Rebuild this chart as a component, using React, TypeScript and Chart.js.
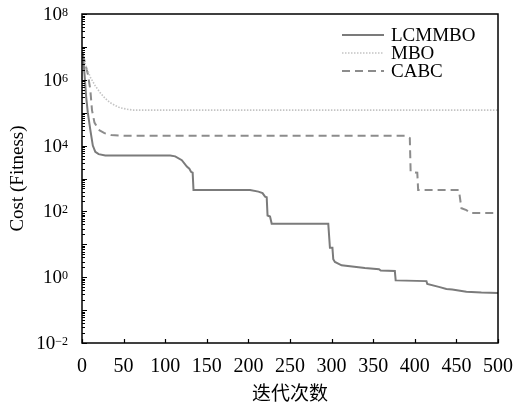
import React, { useEffect, useRef } from 'react';
import { Chart, registerables } from 'chart.js';

Chart.register(...registerables);

// ---- data ----
const seriesNames = ['LCMMBO', 'MBO', 'CABC'];

const lcmmboIter = [1, 3, 5, 7, 10, 13, 16, 20, 28, 60, 106, 112, 120, 126, 129, 131, 133, 134, 202, 212, 217, 220, 222, 223, 226, 228, 296, 298, 301, 302, 304, 312, 340, 357, 359, 376, 377, 414, 415, 430, 438, 445, 462, 480, 500];
const lcmmboCost = [6.5e6, 1.5e6, 3e5, 1e5, 3e4, 1e4, 6.5e3, 5.5e3, 5e3, 5e3, 5e3, 4.7e3, 3.6e3, 2.3e3, 2e3, 1.6e3, 1.5e3, 450, 450, 400, 360, 280, 270, 75, 70, 42, 42, 7.8, 7.8, 3.5, 2.9, 2.3, 1.9, 1.75, 1.6, 1.55, 0.8, 0.76, 0.62, 0.5, 0.44, 0.42, 0.36, 0.34, 0.33];

const mboIter = [1, 4, 10, 16, 22, 28, 34, 40, 46, 54, 61, 500];
const mboCost = [6e6, 3e6, 1.2e6, 6.5e5, 4e5, 2.7e5, 2e5, 1.65e5, 1.4e5, 1.28e5, 1.2e5, 1.2e5];

const cabcIter = [1, 4, 7, 10, 12, 15, 20, 27, 35, 50, 389, 394, 395, 403, 404, 453, 456, 462, 466, 500];
const cabcCost = [6e6, 3e6, 1.5e6, 5e5, 1.2e5, 5e4, 3e4, 2.4e4, 2.1e4, 2e4, 2e4, 1.7e4, 1.6e3, 1.5e3, 450, 450, 125, 110, 90, 90];

const xTickValues = [0, 50, 100, 150, 200, 250, 300, 350, 400, 450, 500];
const yLabelExponents = [-2, 0, 2, 4, 6, 8];
const xTitle = '迭代次数';
const yTitle = 'Cost (Fitness)';

const SERIF = '"Liberation Serif", "Times New Roman", serif';
const CJK = '"Noto Sans CJK SC", sans-serif';

const toPoints = (xs: number[], ys: number[]) => xs.map((x, i) => ({ x, y: ys[i] }));

const framePlugin = {
  id: 'frameAndLegend',
  afterDatasetsDraw(chart: any) {
    const { ctx, chartArea, scales } = chart;
    const { left, right, top, bottom } = chartArea;
    const xs = scales.x;
    const ys = scales.y;
    ctx.save();
    ctx.strokeStyle = '#000';
    ctx.lineWidth = 1.5;
    ctx.strokeRect(left, top, right - left, bottom - top);

    // x ticks (inward)
    ctx.lineWidth = 1.2;
    ctx.beginPath();
    xTickValues.forEach((v) => {
      const px = Math.round(xs.getPixelForValue(v)) + 0.5;
      ctx.moveTo(px, bottom);
      ctx.lineTo(px, bottom - 4);
    });
    ctx.stroke();

    // y ticks (inward, log minor)
    ctx.beginPath();
    for (let e = -2; e <= 8; e++) {
      const py = Math.round(ys.getPixelForValue(Math.pow(10, e))) + 0.5;
      ctx.moveTo(left, py);
      ctx.lineTo(left + 5, py);
      if (e < 8) {
        for (let k = 2; k <= 9; k++) {
          const pm = Math.round(ys.getPixelForValue(k * Math.pow(10, e))) + 0.5;
          ctx.moveTo(left, pm);
          ctx.lineTo(left + 3, pm);
        }
      }
    }
    ctx.stroke();

    // y tick labels with superscripts
    ctx.fillStyle = '#000';
    const labelRight = left - 14;
    yLabelExponents.forEach((e) => {
      const py = ys.getPixelForValue(Math.pow(10, e));
      const expText = e < 0 ? '\u2212' + Math.abs(e) : String(e);
      ctx.font = '12px ' + SERIF;
      const ew = ctx.measureText(expText).width;
      ctx.textAlign = 'left';
      ctx.textBaseline = 'alphabetic';
      ctx.fillText(expText, labelRight - ew, py + 2);
      ctx.font = '19px ' + SERIF;
      ctx.textAlign = 'right';
      ctx.textBaseline = 'middle';
      ctx.fillText('10', labelRight - ew, py + 1);
    });

    // legend
    const rows = [35, 53, 71];
    chart.data.datasets.forEach((ds: any, i: number) => {
      const y = rows[i];
      ctx.save();
      ctx.strokeStyle = ds.borderColor;
      ctx.lineWidth = ds.borderWidth;
      ctx.setLineDash(ds.borderDash || []);
      ctx.beginPath();
      ctx.moveTo(342, y);
      ctx.lineTo(384, y);
      ctx.stroke();
      ctx.restore();
      ctx.fillStyle = '#000';
      ctx.font = '19px ' + SERIF;
      ctx.textAlign = 'left';
      ctx.textBaseline = 'middle';
      ctx.fillText(ds.label, 391, y + 1);
    });
    ctx.restore();
  },
};

export default function App() {
  const canvasRef = useRef<HTMLCanvasElement | null>(null);

  useEffect(() => {
    document.body.style.margin = '0';
    const canvas = canvasRef.current;
    if (!canvas) return;
    const chart = new Chart(canvas, {
      type: 'line',
      data: {
        datasets: [
          {
            label: seriesNames[0],
            data: toPoints(lcmmboIter, lcmmboCost),
            borderColor: '#7b7b7b',
            borderWidth: 2,
            pointRadius: 0,
            tension: 0,
          },
          {
            label: seriesNames[1],
            data: toPoints(mboIter, mboCost),
            borderColor: '#c4c4c4',
            borderWidth: 1.6,
            borderDash: [1.5, 1.5],
            pointRadius: 0,
            tension: 0,
          },
          {
            label: seriesNames[2],
            data: toPoints(cabcIter, cabcCost),
            borderColor: '#8c8c8c',
            borderWidth: 2,
            borderDash: [8, 5],
            pointRadius: 0,
            tension: 0,
          },
        ],
      },
      options: {
        responsive: false,
        animation: false,
        devicePixelRatio: 1,
        layout: { padding: { top: 14, right: 16, left: 0, bottom: 0 } },
        plugins: { legend: { display: false }, tooltip: { enabled: false } },
        scales: {
          x: {
            type: 'linear',
            min: 0,
            max: 500,
            afterBuildTicks: (scale: any) => {
              scale.ticks = xTickValues.map((v) => ({ value: v }));
            },
            afterFit: (scale: any) => {
              scale.height = 66;
              scale.paddingLeft = 0;
              scale.paddingRight = 0;
            },
            grid: { display: false },
            border: { display: false },
            ticks: {
              color: '#000',
              font: { family: SERIF, size: 20 },
              padding: 4,
              maxRotation: 0,
              autoSkip: false,
            },
            title: {
              display: true,
              text: xTitle,
              color: '#000',
              font: { family: CJK, size: 19 },
              padding: { top: 0, bottom: 5 },
            },
          },
          y: {
            type: 'logarithmic',
            min: 0.01,
            max: 1e8,
            afterFit: (scale: any) => {
              scale.width = 82;
              scale.paddingTop = 0;
              scale.paddingBottom = 0;
            },
            grid: { display: false },
            border: { display: false },
            ticks: { display: false },
            title: {
              display: true,
              text: yTitle,
              color: '#000',
              font: { family: SERIF, size: 19 },
              padding: { top: 7, bottom: 0 },
            },
          },
        },
      },
      plugins: [framePlugin],
    });
    return () => chart.destroy();
  }, []);

  return (
    <div style={{ width: 514, height: 409, background: '#fff' }}>
      <canvas ref={canvasRef} width={514} height={409} style={{ display: 'block' }} />
    </div>
  );
}
